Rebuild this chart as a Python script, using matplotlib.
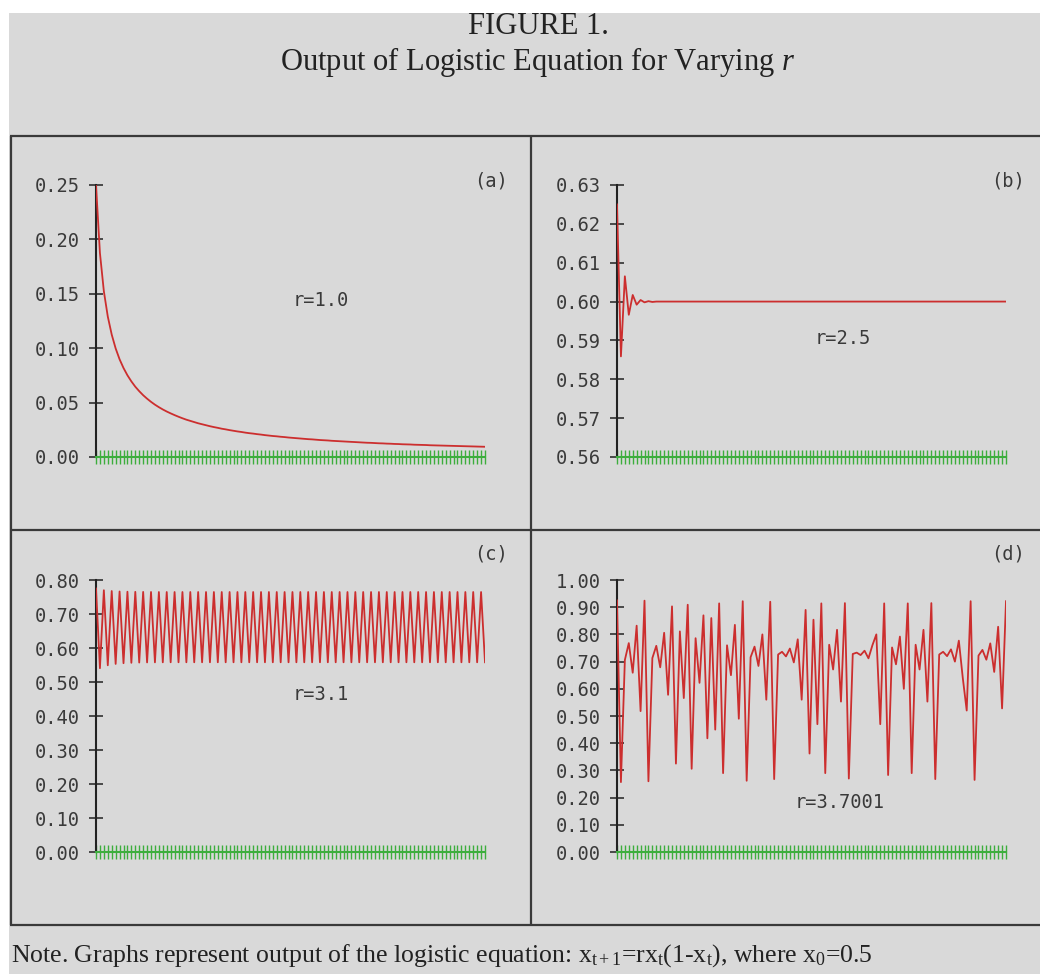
import matplotlib
matplotlib.use("Agg")
import matplotlib.pyplot as plt
from matplotlib.ticker import FormatStrFormatter

W, H = 1040, 974

# time steps shown on every panel
steps = list(range(1, 101))

# r = 1.0
x_r10 = [0.2500, 0.1875, 0.1523, 0.1291, 0.1125, 0.0998, 0.0898, 0.0818, 0.0751, 0.0695,
         0.0646, 0.0605, 0.0568, 0.0536, 0.0507, 0.0481, 0.0458, 0.0437, 0.0418, 0.0401,
         0.0385, 0.0370, 0.0356, 0.0343, 0.0332, 0.0321, 0.0310, 0.0301, 0.0292, 0.0283,
         0.0275, 0.0268, 0.0260, 0.0254, 0.0247, 0.0241, 0.0235, 0.0230, 0.0224, 0.0219,
         0.0215, 0.0210, 0.0206, 0.0201, 0.0197, 0.0193, 0.0190, 0.0186, 0.0183, 0.0179,
         0.0176, 0.0173, 0.0170, 0.0167, 0.0164, 0.0162, 0.0159, 0.0156, 0.0154, 0.0152,
         0.0149, 0.0147, 0.0145, 0.0143, 0.0141, 0.0139, 0.0137, 0.0135, 0.0133, 0.0131,
         0.0130, 0.0128, 0.0126, 0.0125, 0.0123, 0.0122, 0.0120, 0.0119, 0.0117, 0.0116,
         0.0115, 0.0113, 0.0112, 0.0111, 0.0110, 0.0108, 0.0107, 0.0106, 0.0105, 0.0104,
         0.0103, 0.0102, 0.0101, 0.0100, 0.0099, 0.0098, 0.0097, 0.0096, 0.0095, 0.0094]

# r = 2.5, panel (b)
x_r25 = [0.6250, 0.5859, 0.6065, 0.5966, 0.6017, 0.5992, 0.6004, 0.5998, 0.6001, 0.5999,
         0.6000, 0.6000, 0.6000, 0.6000, 0.6000, 0.6000, 0.6000, 0.6000, 0.6000, 0.6000,
         0.6000, 0.6000, 0.6000, 0.6000, 0.6000, 0.6000, 0.6000, 0.6000, 0.6000, 0.6000,
         0.6000, 0.6000, 0.6000, 0.6000, 0.6000, 0.6000, 0.6000, 0.6000, 0.6000, 0.6000,
         0.6000, 0.6000, 0.6000, 0.6000, 0.6000, 0.6000, 0.6000, 0.6000, 0.6000, 0.6000,
         0.6000, 0.6000, 0.6000, 0.6000, 0.6000, 0.6000, 0.6000, 0.6000, 0.6000, 0.6000,
         0.6000, 0.6000, 0.6000, 0.6000, 0.6000, 0.6000, 0.6000, 0.6000, 0.6000, 0.6000,
         0.6000, 0.6000, 0.6000, 0.6000, 0.6000, 0.6000, 0.6000, 0.6000, 0.6000, 0.6000,
         0.6000, 0.6000, 0.6000, 0.6000, 0.6000, 0.6000, 0.6000, 0.6000, 0.6000, 0.6000,
         0.6000, 0.6000, 0.6000, 0.6000, 0.6000, 0.6000, 0.6000, 0.6000, 0.6000, 0.6000]

# r = 3.1, panel (c)
x_r31 = [0.7750, 0.5406, 0.7699, 0.5492, 0.7675, 0.5532, 0.7662, 0.5553, 0.7655, 0.5565,
         0.7651, 0.5572, 0.7649, 0.5576, 0.7647, 0.5578, 0.7646, 0.5579, 0.7646, 0.5580,
         0.7646, 0.5580, 0.7646, 0.5580, 0.7646, 0.5580, 0.7646, 0.5580, 0.7646, 0.5580,
         0.7646, 0.5580, 0.7646, 0.5580, 0.7646, 0.5580, 0.7646, 0.5580, 0.7646, 0.5580,
         0.7646, 0.5580, 0.7646, 0.5580, 0.7646, 0.5580, 0.7646, 0.5580, 0.7646, 0.5580,
         0.7646, 0.5580, 0.7646, 0.5580, 0.7646, 0.5580, 0.7646, 0.5580, 0.7646, 0.5580,
         0.7646, 0.5580, 0.7646, 0.5580, 0.7646, 0.5580, 0.7646, 0.5580, 0.7646, 0.5580,
         0.7646, 0.5580, 0.7646, 0.5580, 0.7646, 0.5580, 0.7646, 0.5580, 0.7646, 0.5580,
         0.7646, 0.5580, 0.7646, 0.5580, 0.7646, 0.5580, 0.7646, 0.5580, 0.7646, 0.5580,
         0.7646, 0.5580, 0.7646, 0.5580, 0.7646, 0.5580, 0.7646, 0.5580, 0.7646, 0.5580]

# r = 3.7001, panel (d)
x_r37 = [0.925, 0.257, 0.706, 0.768, 0.659, 0.832, 0.518, 0.924, 0.260, 0.713,
         0.758, 0.679, 0.806, 0.578, 0.903, 0.325, 0.811, 0.566, 0.909, 0.306,
         0.786, 0.622, 0.870, 0.418, 0.860, 0.450, 0.914, 0.290, 0.760, 0.650,
         0.835, 0.490, 0.922, 0.262, 0.716, 0.755, 0.684, 0.800, 0.560, 0.920,
         0.268, 0.726, 0.736, 0.719, 0.748, 0.697, 0.782, 0.560, 0.890, 0.362,
         0.854, 0.470, 0.914, 0.290, 0.762, 0.671, 0.817, 0.553, 0.915, 0.270,
         0.728, 0.733, 0.724, 0.740, 0.712, 0.760, 0.800, 0.470, 0.914, 0.283,
         0.752, 0.690, 0.792, 0.600, 0.914, 0.290, 0.762, 0.671, 0.817, 0.553,
         0.915, 0.268, 0.726, 0.736, 0.720, 0.745, 0.700, 0.777, 0.640, 0.520,
         0.922, 0.265, 0.722, 0.743, 0.707, 0.767, 0.662, 0.828, 0.528, 0.922]

series = [x_r10, x_r25, x_r31, x_r37]
r_labels = ["r=1.0", "r=2.5", "r=3.1", "r=3.7001"]
panel_tags = ["(a)", "(b)", "(c)", "(d)"]
y_ranges = [(0.0, 0.25), (0.56, 0.63), (0.0, 0.80), (0.0, 1.00)]
y_steps = [0.05, 0.01, 0.10, 0.10]

BG = "#d9d9d9"
RED = "#cc2e2e"
GREEN = "#3dae3d"
INK = "#3a3a3a"
MONO = "DejaVu Sans Mono"

plt.rcParams["mathtext.fontset"] = "custom"
plt.rcParams["mathtext.rm"] = "Liberation Serif"
plt.rcParams["mathtext.it"] = "Liberation Serif:italic"

fig = plt.figure(figsize=(W / 100, H / 100), dpi=100)
fig.patch.set_facecolor("white")

# backdrop in pixel coordinates
bg = fig.add_axes([0, 0, 1, 1], zorder=-5)
bg.set_xlim(0, W)
bg.set_ylim(H, 0)
bg.axis("off")
bg.add_patch(plt.Rectangle((9, 13), W - 9, H - 13, color=BG, lw=0))
box = dict(color="#3a3a3a", lw=1.6, solid_capstyle="butt")
bg.plot([10, W], [136, 136], **box)
bg.plot([10, W], [530, 530], **box)
bg.plot([10, W], [925, 925], **box)
bg.plot([10.5, 10.5], [136, 925], **box)
bg.plot([531, 531], [136, 925], **box)

bg.text(538, 27, "FIGURE 1.", ha="center", va="center",
        family="Liberation Serif", fontsize=22, color="#222222")
bg.text(538, 62, r"Output of Logistic Equation for Varying $\mathit{r}$",
        ha="center", va="center", family="Liberation Serif", fontsize=22,
        color="#222222")
bg.text(11, 956, r"Note. Graphs represent output of the logistic equation: "
        r"x$_{\mathrm{t+1}}$=rx$_{\mathrm{t}}$(1-x$_{\mathrm{t}}$), where x$_{\mathrm{0}}$=0.5",
        ha="left", va="center", family="Liberation Serif", fontsize=18.5,
        color="#222222")

# plot boxes: (left, right, top, bottom) in pixels
frames = [(96, 485, 185, 457), (617, 1006, 185, 457),
          (96, 485, 580, 852), (617, 1006, 580, 852)]
tag_pos = [(508, 181), (1025, 181), (508, 554), (1025, 554)]
r_pos = [(293, 300), (815, 339), (293, 694), (795, 803)]

for i in range(4):
    left, right, top, bottom = frames[i]
    ax = fig.add_axes([left / W, 1 - bottom / H, (right - left) / W, (bottom - top) / H])
    ax.set_facecolor("none")
    ax.plot(steps, series[i], color=RED, lw=1.3, zorder=3)
    lo, hi = y_ranges[i]
    ax.set_xlim(steps[0], steps[-1])
    ax.set_ylim(lo, hi)
    n = int(round((hi - lo) / y_steps[i]))
    ax.set_yticks([lo + k * y_steps[i] for k in range(n + 1)])
    ax.yaxis.set_major_formatter(FormatStrFormatter("%.2f"))
    ax.set_xticks(steps)
    ax.tick_params(axis="y", direction="inout", length=10, width=1.1, color="#222222",
                   pad=7, labelsize=13.5, labelcolor=INK)
    ax.tick_params(axis="x", direction="inout", length=10, width=1.0, color=GREEN,
                   labelbottom=False)
    for lab in ax.get_yticklabels():
        lab.set_family(MONO)
    for side in ("top", "right"):
        ax.spines[side].set_visible(False)
    ax.spines["left"].set_color("#222222")
    ax.spines["left"].set_linewidth(1.5)
    ax.spines["bottom"].set_color(GREEN)
    ax.spines["bottom"].set_linewidth(1.5)

    bg.text(tag_pos[i][0], tag_pos[i][1], panel_tags[i], ha="right", va="center",
            family=MONO, fontsize=13.5, color=INK)
    bg.text(r_pos[i][0], r_pos[i][1], r_labels[i], ha="left", va="center",
            family=MONO, fontsize=13.5, color=INK)

fig.savefig("out.png", dpi=100, facecolor=fig.get_facecolor())
